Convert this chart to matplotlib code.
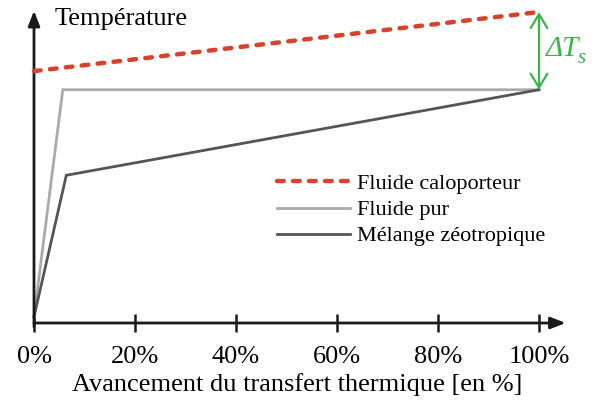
import matplotlib.pyplot as plt

plt.rcParams['font.family'] = ['Liberation Serif', 'DejaVu Serif']

# data (arbitrary temperature units, 0 = x axis)
x_calo = [0, 100]
t_calo = [81, 100]
x_pur = [0, 5.7, 100]
t_pur = [2, 75, 75]
x_mel = [0, 6.4, 100]
t_mel = [2, 47.5, 75]
ticks = [0, 20, 40, 60, 80, 100]
tick_labels = ['0%', '20%', '40%', '60%', '80%', '100%']

W, H = 603, 403
fig = plt.figure(figsize=(W / 100, H / 100), dpi=100)
x0, x100, yb, yt = 34, 539, 323, 12
ax = fig.add_axes([x0 / W, 1 - yb / H, (x100 - x0) / W, (yb - yt) / H])
ax.set_xlim(0, 100)
ax.set_ylim(0, 100)

red = '#d8412c'
ax.plot(x_calo, t_calo, color=red, lw=3.2, ls=(0, (1.5, 2.1)),
        dash_capstyle='round', clip_on=False, label='Fluide caloporteur',
        zorder=4)
ax.plot(x_pur, t_pur, color='#aaaaaa', lw=2.0, clip_on=False,
        label='Fluide pur', solid_joinstyle='miter', zorder=3)
ax.plot(x_mel, t_mel, color='#555555', lw=2.0, clip_on=False,
        label='Mélange zéotropique', solid_joinstyle='miter', zorder=3)

for s in ax.spines.values():
    s.set_visible(False)

# axis arrows
ak = dict(arrowstyle='-|>,head_length=0.9,head_width=0.35', color='#1a1a1a',
          lw=2, shrinkA=0, shrinkB=0)
ax.annotate('', xy=(105.3, 0), xytext=(0, 0), arrowprops=ak,
            annotation_clip=False)
ax.annotate('', xy=(0, 100.4), xytext=(0, -1.2), arrowprops=ak,
            annotation_clip=False)

ax.set_xticks(ticks)
ax.set_xticklabels(tick_labels)
ax.tick_params(axis='x', direction='inout', length=13, width=1.8,
               color='#1a1a1a', labelsize=19, pad=10)
ax.set_yticks([])
ax.patch.set_visible(False)

# delta T arrow
green = '#3ab54a'
ax.annotate('', xy=(100, 100), xytext=(100, 75),
            arrowprops=dict(arrowstyle='<->,head_length=1.0,head_width=0.6',
                            color=green, lw=1.6, shrinkA=0, shrinkB=0),
            annotation_clip=False)
fig.text(546 / W, 1 - 56 / H, 'ΔT', color=green, fontsize=21,
         style='italic', va='baseline', ha='left')
fig.text(578 / W, 1 - 63 / H, 's', color=green, fontsize=15,
         style='italic', va='baseline', ha='left')

fig.text(55 / W, 1 - 19 / H, 'Température', fontsize=19, va='center',
         ha='left')
fig.text(297 / W, 1 - 385 / H, 'Avancement du transfert thermique [en %]',
         fontsize=19, va='center', ha='center')

ax.legend(loc='center left', bbox_to_anchor=(277 / W, 1 - 210 / H),
          bbox_transform=fig.transFigure, frameon=False, fontsize=16,
          handlelength=3.3, handletextpad=0.3, labelspacing=0.25,
          borderpad=0, borderaxespad=0)

fig.savefig('out.png', dpi=100, facecolor='white')
